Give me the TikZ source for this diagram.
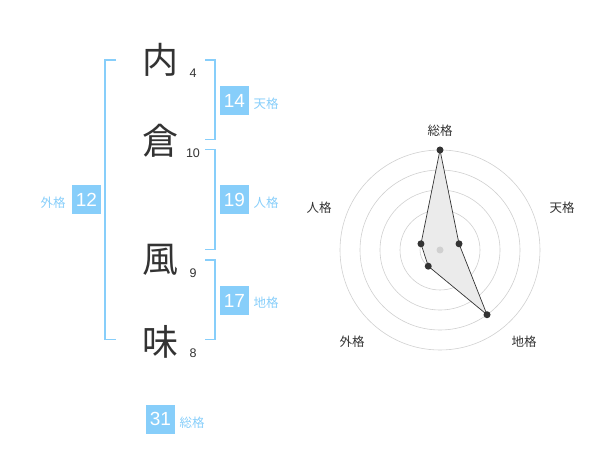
\documentclass[tikz,border=0pt]{standalone}
\usepackage{fontspec}
\setmainfont{Liberation Sans}
\newfontfamily\cjk{Noto Sans CJK JP}
\usetikzlibrary{calc}
\definecolor{skyb}{HTML}{87CEFA}
\definecolor{ink}{HTML}{333333}
\definecolor{ringc}{HTML}{D0D0D0}
\definecolor{polyf}{HTML}{EBEBEB}
\tikzset{
  kanji/.style={inner sep=0pt, text=ink, font=\cjk\fontsize{36}{36}\selectfont},
  strokes/.style={inner sep=0pt, text=ink, font=\fontsize{12.5}{12.5}\selectfont},
  numbox/.style={inner sep=0pt, minimum size=29pt, fill=skyb, text=white, font=\fontsize{19}{19}\selectfont},
  lbl/.style={inner sep=0pt, text=skyb, font=\cjk\fontsize{12.5}{12.5}\selectfont},
  bracket/.style={draw=skyb, line width=1.6pt},
  ring/.style={draw=ringc, line width=0.6pt},
  axlbl/.style={inner sep=0pt, text=ink, font=\cjk\fontsize{12.5}{12.5}\selectfont},
  dot/.style={circle, fill=ink, inner sep=0pt, minimum size=7pt},
}
\begin{document}
\begin{tikzpicture}[x=1pt,y=-1pt]
\useasboundingbox (0,0) rectangle (600,470);
% kanji
\node[kanji] (k1) at (160,60) {内};
\node[kanji] (k2) at (160,141) {倉};
\node[kanji] (k3) at (160,260) {風};
\node[kanji] (k4) at (160,342) {味};
\node[strokes] (s1) at (193,73) {4};
\node[strokes] (s2) at (193,153) {10};
\node[strokes] (s3) at (193,273) {9};
\node[strokes] (s4) at (193,353) {8};
% brackets
\coordinate (la) at (116,60); \coordinate (lb) at (105,60);
\coordinate (lc) at (105,339.5); \coordinate (ld) at (116,339.5);
\draw[bracket] (la) -- (lb) -- (lc) -- (ld);
\coordinate (r1a) at (205,60); \coordinate (r1b) at (215,60);
\coordinate (r1c) at (215,139.5); \coordinate (r1d) at (205,139.5);
\draw[bracket] (r1a) -- (r1b) -- (r1c) -- (r1d);
\coordinate (r2a) at (205,149.5); \coordinate (r2b) at (215,149.5);
\coordinate (r2c) at (215,249.5); \coordinate (r2d) at (205,249.5);
\draw[bracket] (r2a) -- (r2b) -- (r2c) -- (r2d);
\coordinate (r3a) at (205,260); \coordinate (r3b) at (215,260);
\coordinate (r3c) at (215,339.5); \coordinate (r3d) at (205,339.5);
\draw[bracket] (r3a) -- (r3b) -- (r3c) -- (r3d);
% number boxes
\node[numbox] (ten) at (234.5,100.5) {14};
\node[lbl] (tenl) at (266,104) {天格};
\node[numbox] (jin) at (234.5,200) {19};
\node[lbl] (jinl) at (266,203) {人格};
\node[numbox] (chi) at (234.5,300.5) {17};
\node[lbl] (chil) at (266,303) {地格};
\node[numbox] (gai) at (86.5,200) {12};
\node[lbl] (gail) at (53,203) {外格};
\node[numbox] (sou) at (160.5,419) {31};
\node[lbl] (soul) at (192,423) {総格};
% radar
\coordinate (c) at (440,250);
\foreach \r in {20,40,60,80,100} \draw[ring] (c) circle[radius=\r];
\coordinate (p1) at ($(c)+(-90:100)$);
\coordinate (p2) at ($(c)+(-18:20)$);
\coordinate (p3) at ($(c)+(54:80)$);
\coordinate (p4) at ($(c)+(126:20)$);
\coordinate (p5) at ($(c)+(198:20)$);
\filldraw[fill=polyf, draw=ink, line width=0.7pt] (p1) -- (p2) -- (p3) -- (p4) -- (p5) -- cycle;
\node[circle, fill=ringc, inner sep=0pt, minimum size=7pt] (cd) at (c) {};
\foreach \p in {p1,p2,p3,p4,p5} \node[dot] (d\p) at (\p) {};
\node[axlbl] (a1) at (440,131) {総格};
\node[axlbl] (a2) at (562,208) {天格};
\node[axlbl] (a3) at (524,342) {地格};
\node[axlbl] (a4) at (352,342) {外格};
\node[axlbl] (a5) at (319,208) {人格};
\end{tikzpicture}
\end{document}
